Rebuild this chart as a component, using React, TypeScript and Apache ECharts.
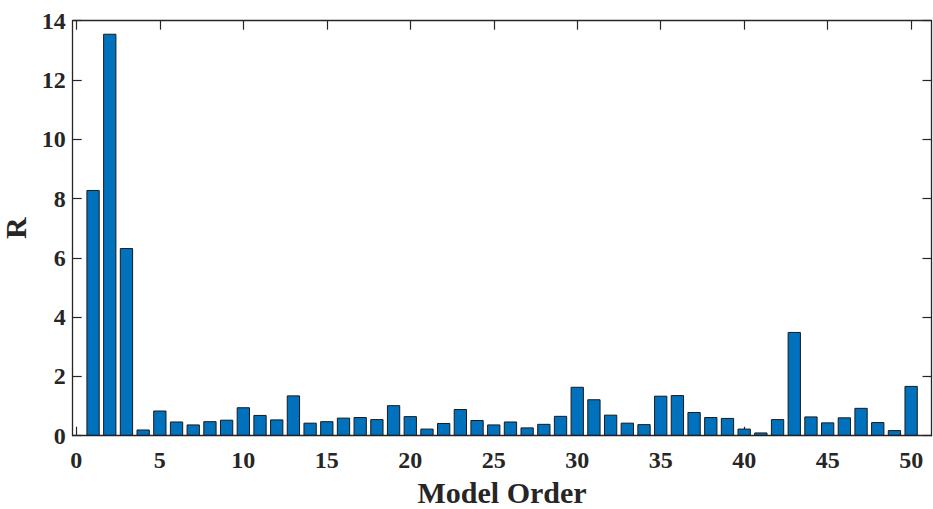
import React, { useEffect, useRef } from "react";
import * as echarts from "echarts";

const modelOrder: number[] = Array.from({ length: 50 }, (_, i) => i + 1);
const rValues: number[] = [
  8.29, 13.56, 6.33, 0.21, 0.85, 0.48, 0.38, 0.49, 0.54, 0.96,
  0.7, 0.55, 1.36, 0.44, 0.49, 0.61, 0.63, 0.56, 1.03, 0.66,
  0.24, 0.43, 0.9, 0.53, 0.38, 0.48, 0.28, 0.4, 0.67, 1.65,
  1.23, 0.71, 0.44, 0.39, 1.35, 1.37, 0.8, 0.63, 0.6, 0.24,
  0.11, 0.56, 3.5, 0.65, 0.45, 0.62, 0.94, 0.46, 0.19, 1.68,
];
const xTicks: number[] = [0, 5, 10, 15, 20, 25, 30, 35, 40, 45, 50];

const AX = "#262626";
const FONT = "'Liberation Serif', 'Times New Roman', serif";

export default function App() {
  const ref = useRef<HTMLDivElement>(null);
  useEffect(() => {
    document.body.style.margin = "0";
    const chart = echarts.init(ref.current!, null, { renderer: "svg" });
    const tickStyle = { show: true, inside: true, length: 9, lineStyle: { color: AX, width: 1.2 } };
    const lineStyle = { show: true, onZero: false, lineStyle: { color: AX, width: 1.3 } };
    chart.setOption({
      animation: false,
      backgroundColor: "#ffffff",
      grid: {
        left: 72.7,
        right: 1.5,
        top: 20.7,
        bottom: 73.3,
        containLabel: false,
        outerBoundsMode: "none",
      },
      xAxis: [
        {
          type: "value",
          min: -0.22,
          max: 51.22,
          position: "bottom",
          axisLine: lineStyle,
          axisTick: { ...tickStyle, customValues: xTicks },
          axisLabel: {
            customValues: xTicks,
            color: AX,
            fontFamily: FONT,
            fontWeight: "bold",
            fontSize: 24,
            margin: 12,
          },
          splitLine: { show: false },
          name: "Model Order",
          nameLocation: "middle",
          nameGap: 42,
          nameTextStyle: { color: AX, fontFamily: FONT, fontWeight: "bold", fontSize: 30 },
        },
        {
          type: "value",
          min: -0.22,
          max: 51.22,
          position: "top",
          axisLine: lineStyle,
          axisTick: { ...tickStyle, customValues: xTicks },
          axisLabel: { show: false, customValues: xTicks },
          splitLine: { show: false },
        },
      ],
      yAxis: [
        {
          type: "value",
          min: 0,
          max: 14,
          interval: 2,
          position: "left",
          axisLine: lineStyle,
          axisTick: tickStyle,
          axisLabel: {
            color: AX,
            fontFamily: FONT,
            fontWeight: "bold",
            fontSize: 24,
            margin: 7,
          },
          splitLine: { show: false },
          name: "R",
          nameLocation: "middle",
          nameGap: 40,
          nameTextStyle: { color: AX, fontFamily: FONT, fontWeight: "bold", fontSize: 30 },
        },
        {
          type: "value",
          min: 0,
          max: 14,
          interval: 2,
          position: "right",
          axisLine: lineStyle,
          axisTick: tickStyle,
          axisLabel: { show: false },
          splitLine: { show: false },
        },
      ],
      series: [
        {
          type: "bar",
          xAxisIndex: 0,
          yAxisIndex: 0,
          barWidth: 13.3,
          data: modelOrder.map((x, i) => [x, rValues[i]]),
          itemStyle: { color: "#0072BD", borderColor: "#1a1a1a", borderWidth: 1 },
          z: 1,
        },
      ],
    });
    return () => chart.dispose();
  }, []);
  return <div ref={ref} style={{ position: "absolute", left: 0, top: 0, width: 933, height: 509 }} />;
}
